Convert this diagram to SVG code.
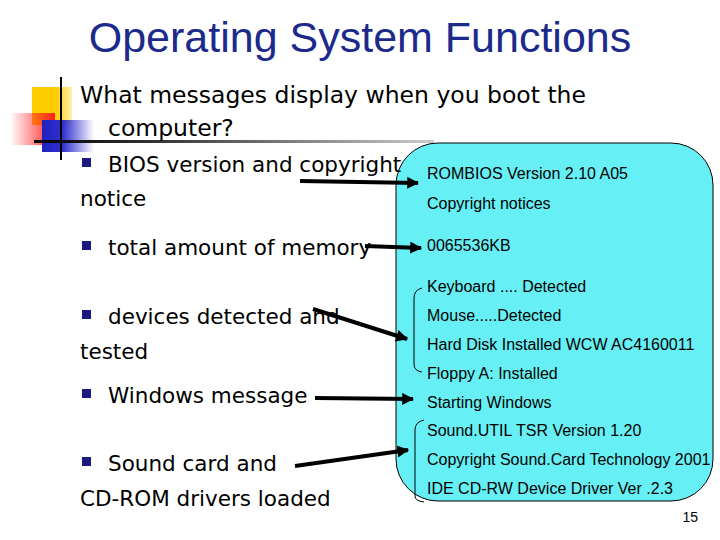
<svg xmlns="http://www.w3.org/2000/svg" width="720" height="540" viewBox="0 0 720 540">
<defs>
<linearGradient id="red" x1="1" y1="0" x2="0" y2="0"><stop offset="0" stop-color="#ff2020"/><stop offset="1" stop-color="#ff2020" stop-opacity="0"/></linearGradient>
<linearGradient id="blue" x1="0" y1="0" x2="1" y2="0"><stop offset="0" stop-color="#2020c0"/><stop offset="0.4" stop-color="#3030d0"/><stop offset="1" stop-color="#3030d0" stop-opacity="0"/></linearGradient>
<linearGradient id="yel" x1="0" y1="0" x2="1" y2="0"><stop offset="0.6" stop-color="#ffcc00"/><stop offset="1" stop-color="#ffcc00" stop-opacity="0.3"/></linearGradient>
<linearGradient id="rule" x1="0" y1="0" x2="1" y2="0"><stop offset="0" stop-color="#000"/><stop offset="0.3" stop-color="#333"/><stop offset="1" stop-color="#ccc"/></linearGradient>
<marker id="ah" viewBox="0 0 10 10" refX="9" refY="5" markerWidth="3" markerHeight="3" orient="auto"><path d="M0,0 L10,5 L0,10 z" fill="#000"/></marker>
<style>
.b{font-family:"DejaVu Sans",Verdana,sans-serif;font-size:21.5px;fill:#000}
.w{font-size:23.5px}
.s{font-family:"Liberation Sans",Arial,sans-serif;font-size:16px;fill:#000}
.bl{fill:#1a1a80}
.ar{stroke:#000;stroke-width:4;fill:none;marker-end:url(#ah)}
.br{stroke:#000;stroke-width:1;fill:none}
</style>
</defs>
<text x="360" y="52" text-anchor="middle" font-family="Liberation Sans, Arial, sans-serif" font-size="43" fill="#1c2a8c">Operating System Functions</text>
<g id="decor">
<rect x="32" y="87" width="40" height="38" fill="url(#yel)"/>
<rect x="10" y="113" width="45" height="32" fill="url(#red)"/>
<rect x="42" y="120" width="52" height="32" fill="url(#blue)"/>
<line x1="61" y1="77" x2="61" y2="160" stroke="#000" stroke-width="2"/>
<rect x="34" y="140" width="400" height="3" fill="url(#rule)"/>
</g>
<g id="box">
<rect x="396" y="143" width="317" height="358" rx="42" fill="#66f0f5" stroke="#000" stroke-width="1"/>
<text class="s" x="427" y="179">ROMBIOS Version 2.10 A05</text>
<text class="s" x="427" y="209">Copyright notices</text>
<text class="s" x="427" y="251">0065536KB</text>
<text class="s" x="427" y="292">Keyboard .... Detected</text>
<text class="s" x="427" y="321">Mouse.....Detected</text>
<text class="s" x="427" y="350">Hard Disk Installed WCW AC4160011</text>
<text class="s" x="427" y="379">Floppy A: Installed</text>
<text class="s" x="427" y="408">Starting Windows</text>
<text class="s" x="427" y="436">Sound.UTIL TSR Version 1.20</text>
<text class="s" x="427" y="465">Copyright Sound.Card Technology 2001</text>
<text class="s" x="427" y="494">IDE CD-RW Device Driver Ver .2.3</text>
<path class="br" d="M422,288 Q414,290 414,298 L414,364 Q414,371 422,372"/>
<path class="br" d="M424,420 Q415,422 415,430 L415,496 Q415,501 424,502"/>
</g>
<g id="bullets">
<text class="b w" x="80" y="103">What messages display when you boot the</text>
<text class="b w" x="108" y="136">computer?</text>
<rect class="bl" x="82" y="158" width="9" height="9"/>
<text class="b" x="108" y="172">BIOS version and copyright</text>
<text class="b" x="80" y="206">notice</text>
<rect class="bl" x="82" y="241" width="9" height="9"/>
<text class="b" x="108" y="255">total amount of memory</text>
<rect class="bl" x="82" y="310" width="9" height="9"/>
<text class="b" x="108" y="324">devices detected and</text>
<text class="b" x="80" y="359">tested</text>
<rect class="bl" x="82" y="389" width="9" height="9"/>
<text class="b" x="108" y="403">Windows message</text>
<rect class="bl" x="82" y="457" width="9" height="9"/>
<text class="b" x="108" y="471">Sound card and</text>
<text class="b" x="80" y="506">CD-ROM drivers loaded</text>
</g>
<g id="connectors">
<line class="ar" x1="300" y1="181" x2="418" y2="183"/>
<line class="ar" x1="365" y1="246" x2="421" y2="248"/>
<line class="ar" x1="313" y1="309" x2="407" y2="339"/>
<line class="ar" x1="315" y1="398" x2="413" y2="399"/>
<line class="ar" x1="295" y1="466" x2="408" y2="450"/>
</g>
<text x="698" y="522" text-anchor="end" font-family="Liberation Sans, Arial, sans-serif" font-size="14">15</text>
</svg>
